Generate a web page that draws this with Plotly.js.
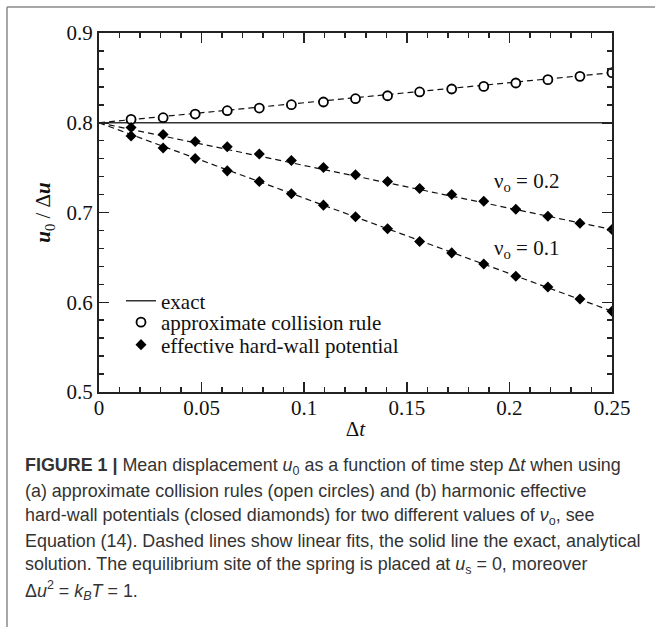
<!DOCTYPE html>
<html>
<head>
<meta charset="utf-8">
<script src="https://cdn.plot.ly/plotly-3.0.1.min.js"></script>
<style>
  html, body { margin: 0; padding: 0; background: #fff; }
  #chart { width: 655px; height: 627px; }
</style>
</head>
<body>
<div id="chart"></div>
<script>
// ---- data ----
const dt = [0.015625, 0.03125, 0.046875, 0.0625, 0.078125, 0.09375, 0.109375, 0.125,
            0.140625, 0.15625, 0.171875, 0.1875, 0.203125, 0.21875, 0.234375, 0.25];

const approxCollision = [0.8037, 0.8056, 0.8097, 0.8134, 0.8164, 0.8201, 0.8231, 0.8268,
                         0.8301, 0.8343, 0.8376, 0.8405, 0.8443, 0.8480, 0.8517, 0.8558];

const hardWallNu02 = [0.7948, 0.7869, 0.7791, 0.7732, 0.7651, 0.7579, 0.7501, 0.7420,
                      0.7345, 0.7267, 0.7200, 0.7126, 0.7037, 0.6959, 0.6881, 0.6810];

const hardWallNu01 = [0.7852, 0.7718, 0.7602, 0.7464, 0.7345, 0.7208, 0.7082, 0.6952,
                      0.6818, 0.6676, 0.6550, 0.6426, 0.6289, 0.6170, 0.6036, 0.5899];

const exactX = [0, 0.25];
const exactY = [0.8, 0.8];

const fitX = [0, 0.25];
const fitApprox = [0.8, 0.8558];
const fitNu02 = [0.8, 0.6810];
const fitNu01 = [0.8, 0.5900];

const xTickVals = [0, 0.05, 0.1, 0.15, 0.2, 0.25];
const xTickText = ['0', '0.05', '0.1', '0.15', '0.2', '0.25'];
const yTickVals = [0.5, 0.6, 0.7, 0.8, 0.9];
const yTickText = ['0.5', '0.6', '0.7', '0.8', '0.9'];

const legendNames = ['exact', 'approximate collision rule', 'effective hard-wall potential'];
const curveLabels = ['ν<sub>o</sub> = 0.2', 'ν<sub>o</sub> = 0.1'];

const captionLines = [
  '<b>FIGURE 1 |</b> Mean displacement <i>u</i><sub>0</sub> as a function of time step Δ<i>t</i> when using',
  '(a) approximate collision rules (open circles) and (b) harmonic effective',
  'hard-wall potentials (closed diamonds) for two different values of <i>ν</i><sub>o</sub>, see',
  'Equation (14). Dashed lines show linear fits, the solid line the exact, analytical',
  'solution. The equilibrium site of the spring is placed at <i>u</i><sub>s</sub> = 0, moreover',
  'Δ<i>u</i><sup>2</sup> = <i>k</i><sub><i>B</i></sub><i>T</i> = 1.'
];

// ---- layout helpers (pixel -> paper) ----
const W = 655, H = 627;
const M = { l: 99, r: 43, t: 33, b: 235 };
const PW = W - M.l - M.r, PH = H - M.t - M.b;
const px = p => (p - M.l) / PW;
const py = p => (H - M.b - p) / PH;

const SERIF = 'Liberation Serif, Times New Roman, serif';
const SANS = 'Liberation Sans, Arial, sans-serif';
const INK = '#111';

const dashLine = { color: '#111', width: 1.2, dash: '6px,4px' };

const traces = [
  { x: exactX, y: exactY, mode: 'lines', name: legendNames[0],
    line: { color: '#333', width: 1.5 }, legend: 'legend', hoverinfo: 'skip' },
  { x: fitX, y: fitApprox, mode: 'lines', line: dashLine, showlegend: false, hoverinfo: 'skip' },
  { x: fitX, y: fitNu02, mode: 'lines', line: dashLine, showlegend: false, hoverinfo: 'skip' },
  { x: fitX, y: fitNu01, mode: 'lines', line: dashLine, showlegend: false, hoverinfo: 'skip' },
  { x: dt, y: approxCollision, mode: 'markers', name: legendNames[1], legend: 'legend2',
    marker: { symbol: 'circle', size: 9, color: '#fff', line: { color: '#000', width: 1.8 } } },
  { x: dt, y: hardWallNu02, mode: 'markers', name: legendNames[2], legend: 'legend3',
    marker: { symbol: 'diamond', size: 8.5, color: '#000', line: { width: 0 } } },
  { x: dt, y: hardWallNu01, mode: 'markers', name: legendNames[2], showlegend: false,
    marker: { symbol: 'diamond', size: 8.5, color: '#000', line: { width: 0 } } }
];

const axisCommon = {
  showgrid: false, zeroline: false, showline: true, linecolor: '#222', linewidth: 2,
  mirror: 'allticks', ticks: 'inside', ticklen: 10, tickwidth: 1.5, tickcolor: '#222',
  tickfont: { family: SERIF, size: 21, color: INK }, tickmode: 'array',
  fixedrange: true
};

const legendCommon = {
  xanchor: 'left', yanchor: 'middle', bgcolor: 'rgba(0,0,0,0)', borderwidth: 0,
  font: { family: SERIF, size: 21, color: INK }, itemclick: false
};

const annotations = [
  { xref: 'x', yref: 'y', x: 0.1915, y: 0.734, xanchor: 'left', yanchor: 'middle',
    text: curveLabels[0], showarrow: false, font: { family: SERIF, size: 21, color: INK } },
  { xref: 'x', yref: 'y', x: 0.1915, y: 0.659, xanchor: 'left', yanchor: 'middle',
    text: curveLabels[1], showarrow: false, font: { family: SERIF, size: 21, color: INK } }
];

const capY = [466, 491, 516, 541, 565, 590];
captionLines.forEach((t, i) => {
  annotations.push({ xref: 'paper', yref: 'paper', x: px(23), y: py(capY[i]),
    xanchor: 'left', yanchor: 'middle', align: 'left', showarrow: false, text: t,
    font: { family: SANS, size: 17.9, color: '#333' } });
});

const layout = {
  width: W, height: H, margin: M, paper_bgcolor: '#fff', plot_bgcolor: '#fff',
  showlegend: true,
  xaxis: Object.assign({}, axisCommon, {
    range: [0, 0.25], tickvals: xTickVals, ticktext: xTickText, ticklabelstandoff: -4,
    minor: { dtick: 0.01, tick0: 0, ticks: 'inside', ticklen: 5, tickwidth: 1.5, tickcolor: '#222', showgrid: false },
    title: { text: 'Δ<i>t</i>', font: { family: SERIF, size: 21, color: INK }, standoff: 2 }
  }),
  yaxis: Object.assign({}, axisCommon, {
    range: [0.5, 0.9], tickvals: yTickVals, ticktext: yTickText,
    minor: { dtick: 0.02, tick0: 0.5, ticks: 'inside', ticklen: 5, tickwidth: 1.5, tickcolor: '#222', showgrid: false },
    title: { text: '<b><i>u</i></b><sub>0</sub> / Δ<b><i>u</i></b>', font: { family: SERIF, size: 21, color: INK }, standoff: 10 }
  }),
  legend: Object.assign({}, legendCommon, { x: px(121), y: py(301) }),
  legend2: Object.assign({}, legendCommon, { x: px(121), y: py(322.5) }),
  legend3: Object.assign({}, legendCommon, { x: px(121), y: py(345) }),
  annotations: annotations,
  shapes: [
    { type: 'line', xref: 'paper', yref: 'paper', x0: px(7), x1: px(656), y0: py(7), y1: py(7),
      line: { color: '#8a8a8a', width: 1.5 } },
    { type: 'line', xref: 'paper', yref: 'paper', x0: px(7), x1: px(7), y0: py(7), y1: py(628),
      line: { color: '#8a8a8a', width: 1.5 } }
  ]
};

Plotly.newPlot('chart', traces, layout, { staticPlot: true, displayModeBar: false });
</script>
</body>
</html>
